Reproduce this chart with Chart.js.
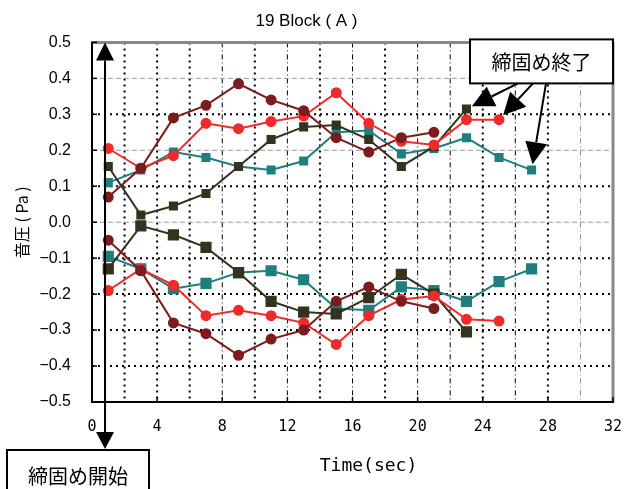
<!DOCTYPE html>
<html lang="ja">
<head>
<meta charset="UTF-8">
<title>19 Block ( A )</title>
<script src="https://cdn.jsdelivr.net/npm/chart.js"></script>
<style>
    html, body { margin: 0; padding: 0; background: #fff; }
    .wrap { width: 624px; height: 489px; position: relative; }
</style>
</head>
<body>
<div class="wrap"><canvas id="chart"></canvas></div>
<script>
// sample times (sec)
const times = [1, 3, 5, 7, 9, 11, 13, 15, 17, 19, 21, 23, 25, 27];

// sound pressure (Pa), upper / lower envelope of each run
const maroonUpper = [0.07, 0.15, 0.29, 0.325, 0.385, 0.34, 0.31, 0.235, 0.195, 0.235, 0.25];
const maroonLower = [-0.05, -0.135, -0.28, -0.31, -0.37, -0.325, -0.30, -0.22, -0.18, -0.22, -0.24];
const redUpper = [0.205, 0.15, 0.185, 0.275, 0.26, 0.28, 0.295, 0.36, 0.275, 0.225, 0.215, 0.285, 0.285];
const redLower = [-0.19, -0.13, -0.175, -0.26, -0.245, -0.26, -0.28, -0.34, -0.26, -0.215, -0.205, -0.27, -0.275];
const oliveUpper = [0.155, 0.02, 0.045, 0.08, 0.155, 0.23, 0.265, 0.27, 0.23, 0.155, 0.21, 0.315];
const oliveLower = [-0.13, -0.01, -0.035, -0.07, -0.14, -0.22, -0.25, -0.255, -0.21, -0.145, -0.2, -0.305];
const tealUpper = [0.11, 0.145, 0.195, 0.18, 0.155, 0.145, 0.17, 0.25, 0.255, 0.19, 0.205, 0.235, 0.18, 0.145];
const tealLower = [-0.095, -0.13, -0.185, -0.17, -0.14, -0.135, -0.16, -0.24, -0.245, -0.18, -0.19, -0.22, -0.165, -0.13];

const xTickValues = [0, 4, 8, 12, 16, 20, 24, 28, 32];
const xTickLabels = ['0', '4', '8', '12', '16', '20', '24', '28', '32'];
const yTickValues = [-0.5, -0.4, -0.3, -0.2, -0.1, 0, 0.1, 0.2, 0.3, 0.4, 0.5];
const yTickLabels = ['\u22120.5', '\u22120.4', '\u22120.3', '\u22120.2', '\u22120.1', '0.0', '0.1', '0.2', '0.3', '0.4', '0.5'];
const xGridValues = [2, 4, 6, 8, 10, 12, 14, 16, 18, 20, 22, 24, 26, 28, 30];
const yGridValues = [-0.4, -0.3, -0.2, -0.1, 0, 0.1, 0.2, 0.3, 0.4];

const xTitle = 'Time(sec)';
const startLabel = '締固め開始';
const endLabel = '締固め終了';
const startTime = 0.8;

const MAROON = '#7c1c1c';
const RED = '#f02a2a';
const OLIVE = '#33331f';
const TEAL = '#1f7f7f';

function pts(vals) {
    return vals.map((v, i) => ({ x: times[i], y: v }));
}

function series(vals, color, style, r) {
    return {
        data: pts(vals),
        borderColor: color,
        backgroundColor: color,
        pointBackgroundColor: color,
        pointBorderColor: color,
        pointStyle: style,
        pointRadius: r,
        borderWidth: 2,
        tension: 0
    };
}

function line(ctx, x1, y1, x2, y2, color, width, dash) {
    ctx.save();
    ctx.strokeStyle = color;
    ctx.lineWidth = width;
    ctx.setLineDash(dash);
    ctx.beginPath();
    ctx.moveTo(x1, y1);
    ctx.lineTo(x2, y2);
    ctx.stroke();
    ctx.restore();
}

// line with a filled triangular head at (x2, y2)
function arrow(ctx, x1, y1, x2, y2, len, half) {
    const a = Math.atan2(y2 - y1, x2 - x1);
    const bx = x2 - len * Math.cos(a), by = y2 - len * Math.sin(a);
    line(ctx, x1, y1, bx, by, '#000', 2, []);
    ctx.save();
    ctx.fillStyle = '#000';
    ctx.beginPath();
    ctx.moveTo(x2, y2);
    ctx.lineTo(bx + half * Math.sin(a), by - half * Math.cos(a));
    ctx.lineTo(bx - half * Math.sin(a), by + half * Math.cos(a));
    ctx.closePath();
    ctx.fill();
    ctx.restore();
}

function box(ctx, x, y, w, h, text) {
    ctx.save();
    ctx.fillStyle = '#fff';
    ctx.fillRect(x, y, w, h);
    ctx.strokeStyle = '#000';
    ctx.lineWidth = 2;
    ctx.strokeRect(x, y, w, h);
    ctx.fillStyle = '#000';
    ctx.font = '20px "Noto Sans CJK JP"';
    ctx.textAlign = 'center';
    ctx.textBaseline = 'middle';
    ctx.fillText(text, x + w / 2, y + h / 2 + 1);
    ctx.restore();
}

const framePlugin = {
    id: 'frame',
    beforeDatasetsDraw(chart) {
        const { ctx, chartArea: a, scales: { x, y } } = chart;
        const thickX = [2, 4, 6, 10, 14, 18, 24, 28];
        xGridValues.forEach(v => {
            const px = x.getPixelForValue(v);
            if (thickX.includes(v)) line(ctx, px, a.top, px, a.bottom, '#000', 2, [2, 4]);
            else if (v === 30) line(ctx, px, a.top, px, a.bottom, '#888', 1, [5, 3, 1, 3]);
            else line(ctx, px, a.top, px, a.bottom, '#000', 1, [5, 3, 1, 3]);
        });
        yGridValues.forEach(v => {
            const py = y.getPixelForValue(v);
            const grey = [0.4, 0.2, 0].some(g => Math.abs(g - v) < 1e-9);
            if (grey) line(ctx, a.left, py, a.right, py, '#999', 1, [5, 3]);
            else line(ctx, a.left, py, a.right, py, '#000', 2, [2, 4]);
        });
        // frame
        line(ctx, a.left, a.top, a.right, a.top, '#888', 3, []);
        line(ctx, a.right, a.top, a.right, a.bottom, '#888', 3, []);
        line(ctx, a.left, a.top - 1, a.left, a.bottom + 1, '#000', 2, []);
        line(ctx, a.left - 1, a.bottom, a.right + 1, a.bottom, '#000', 2, []);
        // small inward ticks
        yTickValues.forEach(v => {
            const py = y.getPixelForValue(v);
            line(ctx, a.left, py, a.left + 5, py, '#000', 1.5, []);
        });
        xTickValues.forEach(v => {
            const px = x.getPixelForValue(v);
            line(ctx, px, a.bottom, px, a.bottom - 5, '#000', 1.5, []);
        });
    },
    afterDatasetsDraw(chart) {
        const { ctx, chartArea: a, scales: { x, y } } = chart;
        // x axis title, set a little right of centre as in the original
        ctx.save();
        ctx.fillStyle = '#000';
        ctx.font = '18px "DejaVu Sans Mono"';
        ctx.textAlign = 'center';
        ctx.textBaseline = 'middle';
        ctx.fillText(xTitle, (a.left + a.right) / 2 + 16, 466);
        ctx.restore();
        // start marker
        const sx = x.getPixelForValue(startTime);
        arrow(ctx, sx, a.bottom, sx, a.top, 18, 9);
        arrow(ctx, sx, a.top + 20, sx, 449, 17, 9);
        box(ctx, 7, 450, 142, 50, startLabel);
        // end marker: box above the plot, arrows to the last point of each upper run
        const bx = a.right - 143, by = a.top - 3, bw = 143, bh = 44;
        box(ctx, bx, by, bw, bh, endLabel);
        const ends = [
            [oliveUpper, 48],
            [redUpper, 63],
            [tealUpper, 76]
        ];
        ends.forEach(([vals, off]) => {
            const i = vals.length - 1;
            const tx = x.getPixelForValue(times[i]);
            const ty = y.getPixelForValue(vals[i]);
            const fx = bx + off, fy = by + bh;
            const d = Math.hypot(fx - tx, fy - ty);
            const k = 6 / d;
            arrow(ctx, fx, fy, tx + (fx - tx) * k, ty + (fy - ty) * k, 22, 11);
        });
    }
};

new Chart(document.getElementById('chart'), {
    type: 'line',
    data: {
        datasets: [
            series(maroonUpper, MAROON, 'circle', 4.5),
            series(maroonLower, MAROON, 'circle', 4.5),
            series(redUpper, RED, 'circle', 4.5),
            series(redLower, RED, 'circle', 4.5),
            series(oliveUpper, OLIVE, 'rect', 5),
            series(oliveLower, OLIVE, 'rect', 6.5),
            series(tealUpper, TEAL, 'rect', 5),
            series(tealLower, TEAL, 'rect', 6.5)
        ]
    },
    options: {
        responsive: true,
        maintainAspectRatio: false,
        animation: false,
        layout: { padding: { left: 0, right: 11, top: 0, bottom: 0 } },
        plugins: {
            legend: { display: false },
            tooltip: { enabled: false },
            title: {
                display: true,
                text: '19 Block ( A )',
                color: '#000',
                font: { family: '"Liberation Sans", Arial', size: 17, weight: 'normal' },
                padding: { top: 11, bottom: 11 }
            }
        },
        scales: {
            x: {
                type: 'linear',
                min: 0,
                max: 32,
                afterFit: s => { s.height = 87; s.paddingLeft = 0; s.paddingRight = 0; },
                afterBuildTicks: s => { s.ticks = xTickValues.map(v => ({ value: v })); },
                grid: { display: false, drawTicks: false },
                border: { display: false },
                ticks: {
                    padding: 16,
                    color: '#000',
                    autoSkip: false,
                    maxRotation: 0,
                    font: { family: '"DejaVu Sans Mono"', size: 15 },
                    callback: v => xTickLabels[xTickValues.indexOf(v)]
                },
                title: { display: false }
            },
            y: {
                min: -0.5,
                max: 0.5,
                afterFit: s => { s.width = 92; },
                afterBuildTicks: s => { s.ticks = yTickValues.map(v => ({ value: v })); },
                grid: { display: false, drawTicks: false },
                border: { display: false },
                ticks: {
                    padding: 21,
                    color: '#000',
                    autoSkip: false,
                    font: { family: '"Liberation Sans", Arial', size: 16 },
                    callback: (v, i) => yTickLabels[i]
                },
                title: {
                    display: true,
                    text: '音圧 ( Pa )',
                    color: '#000',
                    font: { family: '"Noto Sans CJK JP"', size: 16 },
                    padding: { top: 12, bottom: 0 }
                }
            }
        }
    },
    plugins: [framePlugin]
});
</script>
</body>
</html>
